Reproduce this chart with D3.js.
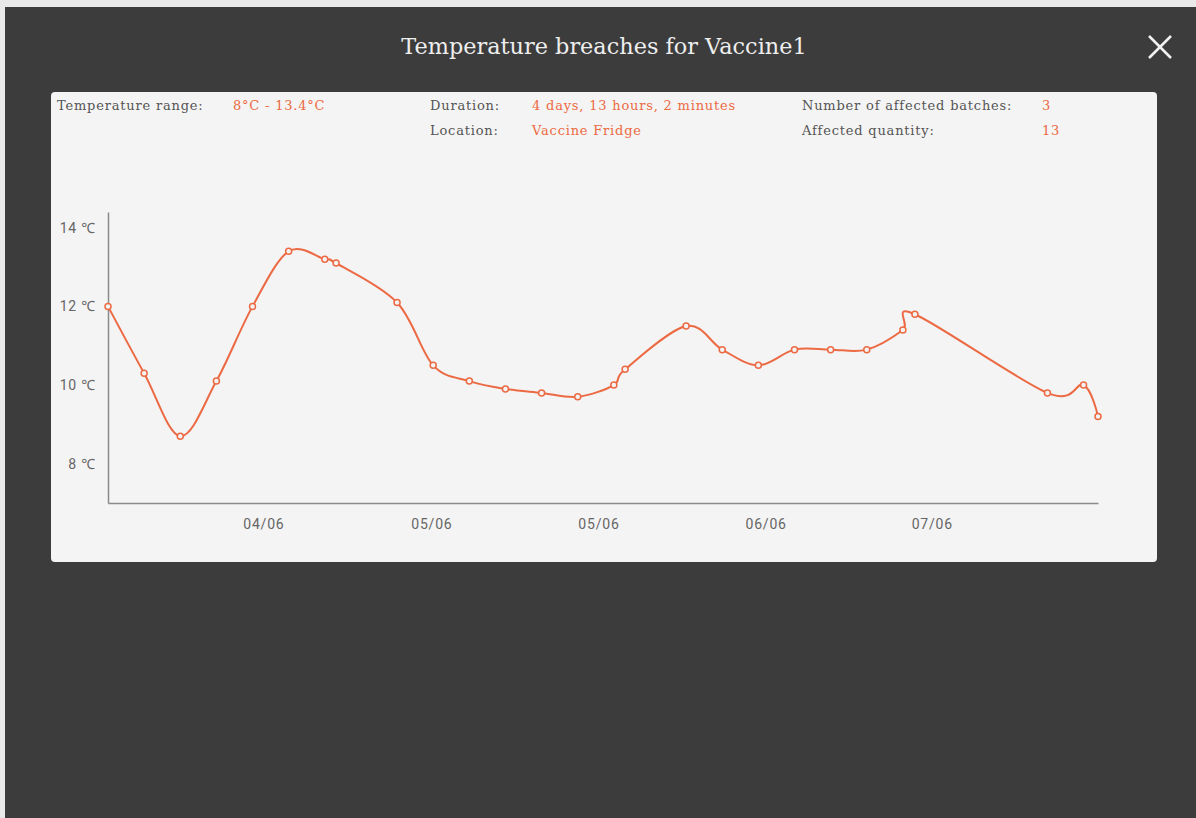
<!DOCTYPE html>
<html>
<head>
<meta charset="utf-8">
<script src="https://cdn.jsdelivr.net/npm/d3@7"></script>
<style>
  html, body { margin: 0; padding: 0; background: #e9e9e9; }
  svg { display: block; }
  .info { font-family: "DejaVu Serif", serif; font-size: 13px; letter-spacing: 0.8px; }
  .lbl { fill: #555; }
  .val { fill: #ec6a43; }
  .tick text { font-family: Roboto, "Noto Sans", sans-serif; font-size: 14px; letter-spacing: 0.8px; fill: #666; }
</style>
</head>
<body>
<div id="chart"></div>
<script>
// readings: hours after first reading, temperature in °C
var startTime = Date.UTC(2017, 5, 3, 15, 0);
var hours = [0, 4, 8, 12, 16, 20, 24, 25.25, 32, 36, 40, 44, 48, 52, 56, 57.25,
             64, 68, 72, 76, 80, 84, 88, 89.33, 104, 108, 109.6];
var temps = [12.0, 10.3, 8.7, 10.1, 12.0, 13.4, 13.2, 13.1, 12.1, 10.5, 10.1, 9.9, 9.8, 9.7, 10.0, 10.4,
             11.5, 10.9, 10.5, 10.9, 10.9, 10.9, 11.4, 11.8, 9.8, 10.0, 9.2];
var tickHours = [17.2, 35.8, 54.3, 72.8, 91.2];
var yTicks = [8, 10, 12, 14];

var infoLeft = [["Temperature range:", "8°C - 13.4°C"]];
var infoMid = [["Duration:", "4 days, 13 hours, 2 minutes"], ["Location:", "Vaccine Fridge"]];
var infoRight = [["Number of affected batches:", "3"], ["Affected quantity:", "13"]];

var W = 1196, H = 818;
var orange = "#ec6a43";

var svg = d3.select("#chart").append("svg")
    .attr("width", W)
    .attr("height", H);

// dark modal backdrop
svg.append("rect")
    .attr("x", 5).attr("y", 7)
    .attr("width", W - 5).attr("height", H - 7)
    .attr("fill", "#3c3c3c");

svg.append("text")
    .attr("x", 604).attr("y", 54)
    .attr("text-anchor", "middle")
    .attr("font-family", "DejaVu Serif, serif")
    .attr("font-size", 22.4)
    .attr("fill", "#eeeeee")
    .text("Temperature breaches for Vaccine1");

// close button
var close = svg.append("g").attr("stroke", "#f2f2f2").attr("stroke-width", 2.5);
close.append("line").attr("x1", 1149).attr("y1", 36).attr("x2", 1171).attr("y2", 58);
close.append("line").attr("x1", 1171).attr("y1", 36).attr("x2", 1149).attr("y2", 58);

// panel
svg.append("rect")
    .attr("x", 51).attr("y", 92)
    .attr("width", 1106).attr("height", 470)
    .attr("rx", 4)
    .attr("fill", "#f4f4f4");

function infoBlock(rows, xl, xv) {
  var g = svg.append("g").attr("class", "info");
  rows.forEach(function(r, i) {
    g.append("text").attr("class", "lbl").attr("x", xl).attr("y", 110 + i * 25).text(r[0]);
    g.append("text").attr("class", "val").attr("x", xv).attr("y", 110 + i * 25).text(r[1]);
  });
}
infoBlock(infoLeft, 57, 233);
infoBlock(infoMid, 430, 532);
infoBlock(infoRight, 802, 1042);

var data = hours.map(function(h, i) {
  return { t: new Date(startTime + h * 3600e3), v: temps[i] };
});

var x = d3.scaleUtc()
    .domain(d3.extent(data, function(d) { return d.t; }))
    .range([108, 1098]);
var y = d3.scaleLinear()
    .domain([7, 14.4])
    .range([503, 212]);

var xAxis = svg.append("g")
    .attr("transform", "translate(0,503)")
    .call(d3.axisBottom(x)
        .tickValues(tickHours.map(function(h) { return new Date(startTime + h * 3600e3); }))
        .tickFormat(d3.utcFormat("%d/%m"))
        .tickSize(0)
        .tickPadding(16));
xAxis.select(".domain").attr("stroke", "#8a8a8a").attr("stroke-width", 1.5);

var yAxis = svg.append("g")
    .attr("transform", "translate(108,0)")
    .call(d3.axisLeft(y)
        .tickValues(yTicks)
        .tickFormat(function(d) { return d + " ℃"; })
        .tickSize(0)
        .tickPadding(12));
yAxis.select(".domain").attr("stroke", "#8a8a8a").attr("stroke-width", 1.5);

var line = d3.line()
    .x(function(d) { return x(d.t); })
    .y(function(d) { return y(d.v); })
    .curve(d3.curveCardinal);

svg.append("path")
    .datum(data)
    .attr("d", line)
    .attr("fill", "none")
    .attr("stroke", orange)
    .attr("stroke-width", 2);

svg.selectAll(".pt")
    .data(data)
    .enter().append("circle")
    .attr("class", "pt")
    .attr("cx", function(d) { return x(d.t); })
    .attr("cy", function(d) { return y(d.v); })
    .attr("r", 3)
    .attr("fill", "#f4f4f4")
    .attr("stroke", orange)
    .attr("stroke-width", 1.5);
</script>
</body>
</html>
